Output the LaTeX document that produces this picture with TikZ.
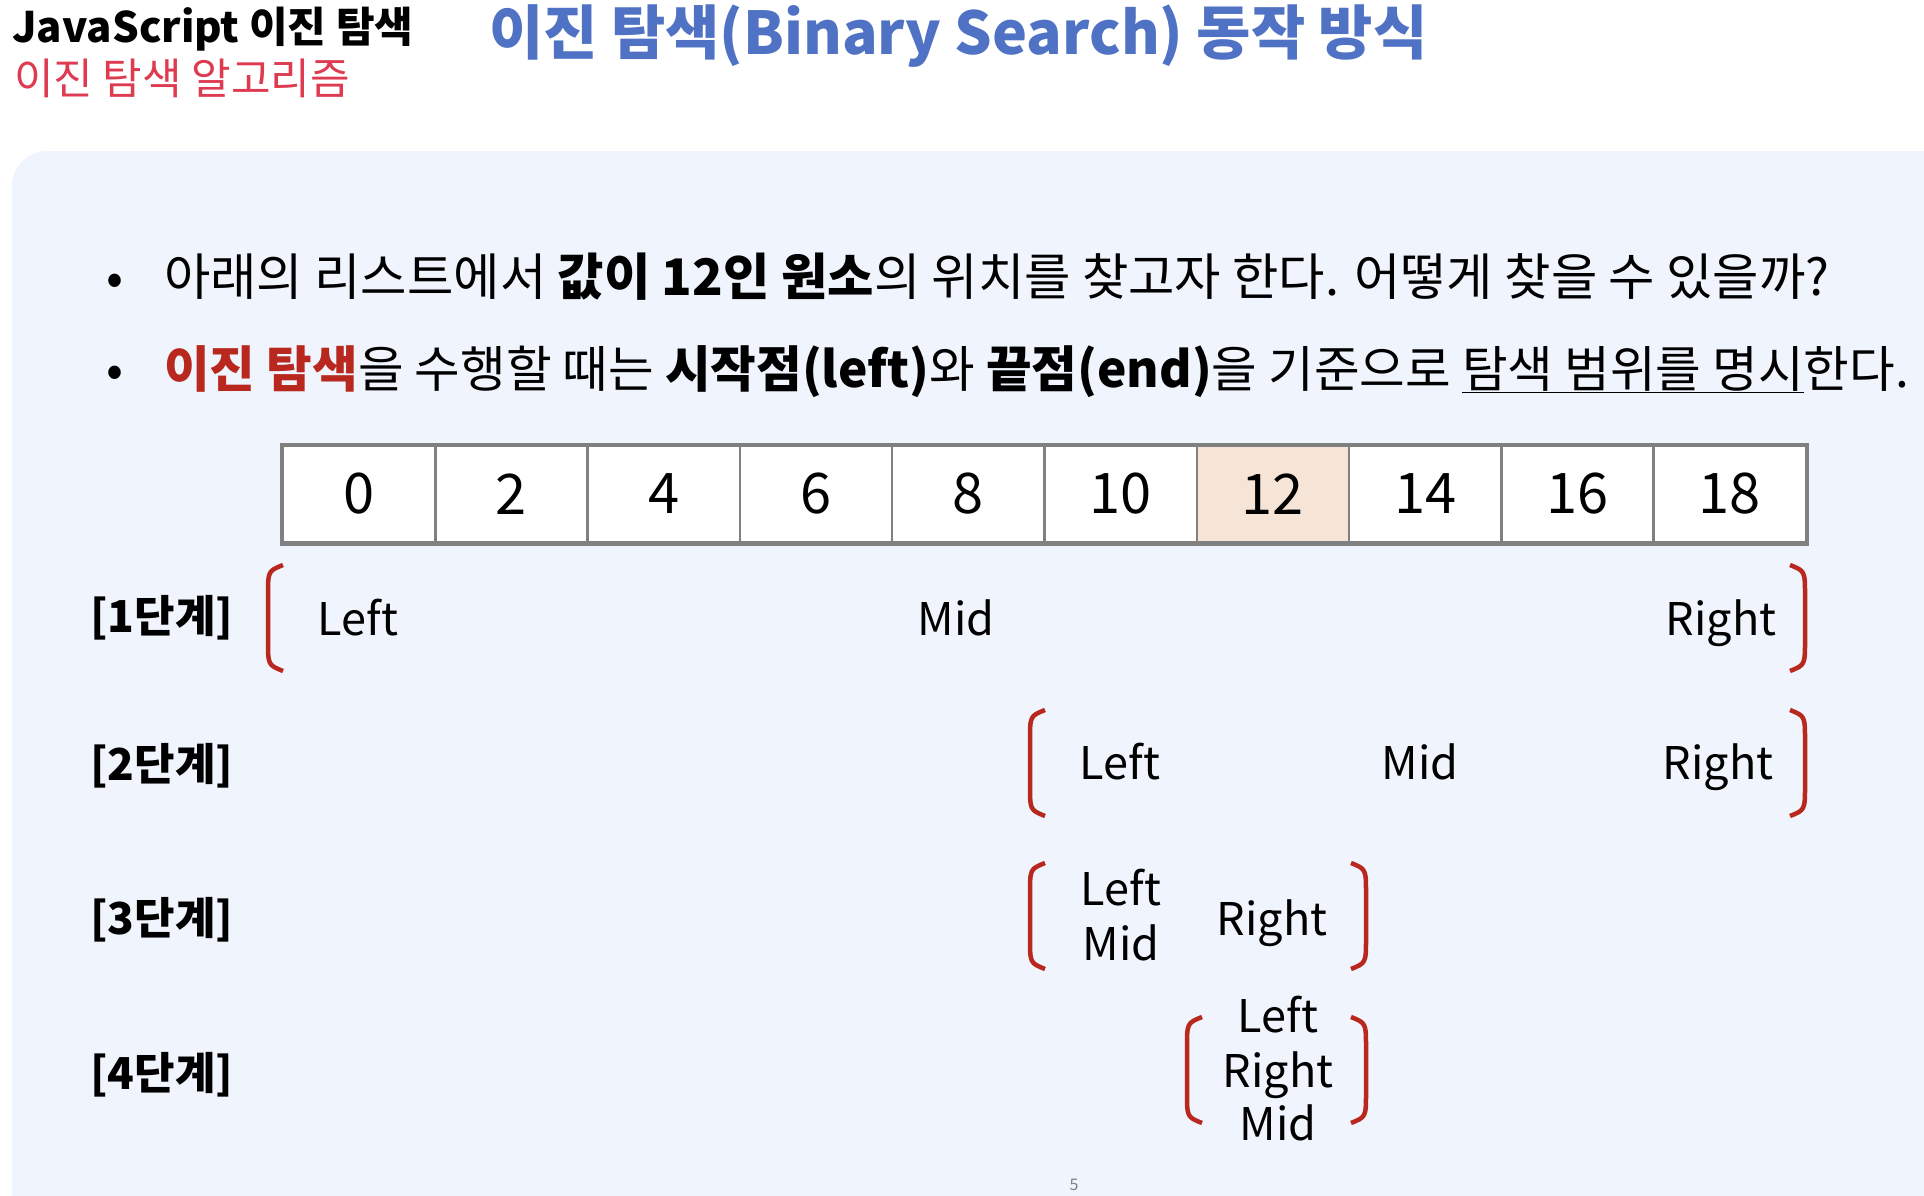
\documentclass[tikz,border=0pt]{standalone}
\usepackage{fontspec}
\setmainfont{Noto Sans CJK KR}
\definecolor{panelbg}{RGB}{240,244,252}
\definecolor{titleblue}{RGB}{79,114,196}
\definecolor{subred}{RGB}{222,58,80}
\definecolor{darkred}{RGB}{184,40,30}
\definecolor{cellgray}{RGB}{128,128,128}
\definecolor{hlpeach}{RGB}{246,228,214}
\begin{document}
\begin{tikzpicture}[x=1pt,y=-1pt,
		cell/.style={draw=cellgray,line width=2.5pt,minimum width=152.3pt,minimum height=97pt,inner sep=0pt,font=\fontsize{56}{60}\selectfont},
		steplabel/.style={anchor=west,inner sep=0pt,font=\fontsize{44}{50}\selectfont\bfseries},
		ptrlabel/.style={anchor=base,inner sep=0pt,font=\fontsize{45}{50}\selectfont},
		bulletline/.style={anchor=base west,inner sep=0pt,font=\fontsize{50}{56}\selectfont},
		paren/.style={draw=darkred,line width=4.5pt}]
	\useasboundingbox (0,0) rectangle (1924,1196);
	\fill[panelbg,rounded corners=35pt] (12,151) rectangle (1970,1240);

	\node[anchor=base west,inner sep=0pt,font=\fontsize{42}{48}\selectfont\bfseries] (head) at (12,43) {JavaScript 이진 탐색};
	\node[anchor=base west,inner sep=0pt,text=subred,font=\fontsize{43}{48}\selectfont] (sub) at (14,95) {이진 탐색 알고리즘};
	\node[anchor=base west,inner sep=0pt,text=titleblue,font=\fontsize{59}{66}\selectfont\bfseries] (title) at (489,55) {이진 탐색(Binary Search) 동작 방식};

	\node[bulletline,anchor=base] (d1) at (115,295) {•};
	\node[bulletline,font=\fontsize{50.4}{56}\selectfont] (b1) at (164,295) {아래의 리스트에서 \textbf{값이 12인 원소}의 위치를 찾고자 한다. 어떻게 찾을 수 있을까?};
	\node[bulletline,anchor=base] (d2) at (115,387) {•};
	\node[bulletline,font=\fontsize{49.6}{56}\selectfont] (b2) at (164,387) {\textcolor{darkred}{\bfseries 이진 탐색}을 수행할 때는 \textbf{시작점(left)}와 \textbf{끝점(end)}을 기준으로 \underline{탐색 범위를 명시}한다.};

	\foreach \v/\f [count=\i from 0] in {0/white,2/white,4/white,6/white,8/white,10/white,12/hlpeach,14/white,16/white,18/white}
		\node[cell,fill=\f] (c\i) at (359.15+152.3*\i,494) {\v};
	\draw[cellgray,line width=3.5pt] (c0.north west) rectangle (c9.south east);

	\node[steplabel] (s1) at (90,618) {[1단계]};
	\node[steplabel] (s2) at (90,766) {[2단계]};
	\node[steplabel] (s3) at (90,920) {[3단계]};
	\node[steplabel] (s4) at (90,1075) {[4단계]};

	\draw[paren] (283,565) .. controls (268,571) .. (268,596) -- (268,640) .. controls (268,665) .. (283,671);
	\draw[paren] (1790,565) .. controls (1805,571) .. (1805,596) -- (1805,640) .. controls (1805,665) .. (1790,671);
	\node[ptrlabel] (l1) at (358,635) {Left};
	\node[ptrlabel] (m1) at (956,635) {Mid};
	\node[ptrlabel] (r1) at (1721,635) {Right};

	\draw[paren] (1045,710) .. controls (1030,716) .. (1030,741) -- (1030,785) .. controls (1030,810) .. (1045,816);
	\draw[paren] (1790,710) .. controls (1805,716) .. (1805,741) -- (1805,785) .. controls (1805,810) .. (1790,816);
	\node[ptrlabel] (l2) at (1120,779) {Left};
	\node[ptrlabel] (m2) at (1420,779) {Mid};
	\node[ptrlabel] (r2) at (1718,779) {Right};

	\draw[paren] (1045,863) .. controls (1030,869) .. (1030,894) -- (1030,938) .. controls (1030,963) .. (1045,969);
	\draw[paren] (1351,863) .. controls (1366,869) .. (1366,894) -- (1366,938) .. controls (1366,963) .. (1351,969);
	\node[ptrlabel] (l3) at (1121,905) {Left};
	\node[ptrlabel] (m3) at (1121,960) {Mid};
	\node[ptrlabel] (r3) at (1272,935) {Right};

	\draw[paren] (1202,1017) .. controls (1187,1023) .. (1187,1048) -- (1187,1092) .. controls (1187,1117) .. (1202,1123);
	\draw[paren] (1351,1017) .. controls (1366,1023) .. (1366,1048) -- (1366,1092) .. controls (1366,1117) .. (1351,1123);
	\node[ptrlabel] (l4) at (1278,1032) {Left};
	\node[ptrlabel] (r4) at (1278,1087) {Right};
	\node[ptrlabel] (m4) at (1278,1140) {Mid};

	\node[text=gray,font=\fontsize{16}{18}\selectfont] (page) at (1074,1185) {5};
\end{tikzpicture}
\end{document}
